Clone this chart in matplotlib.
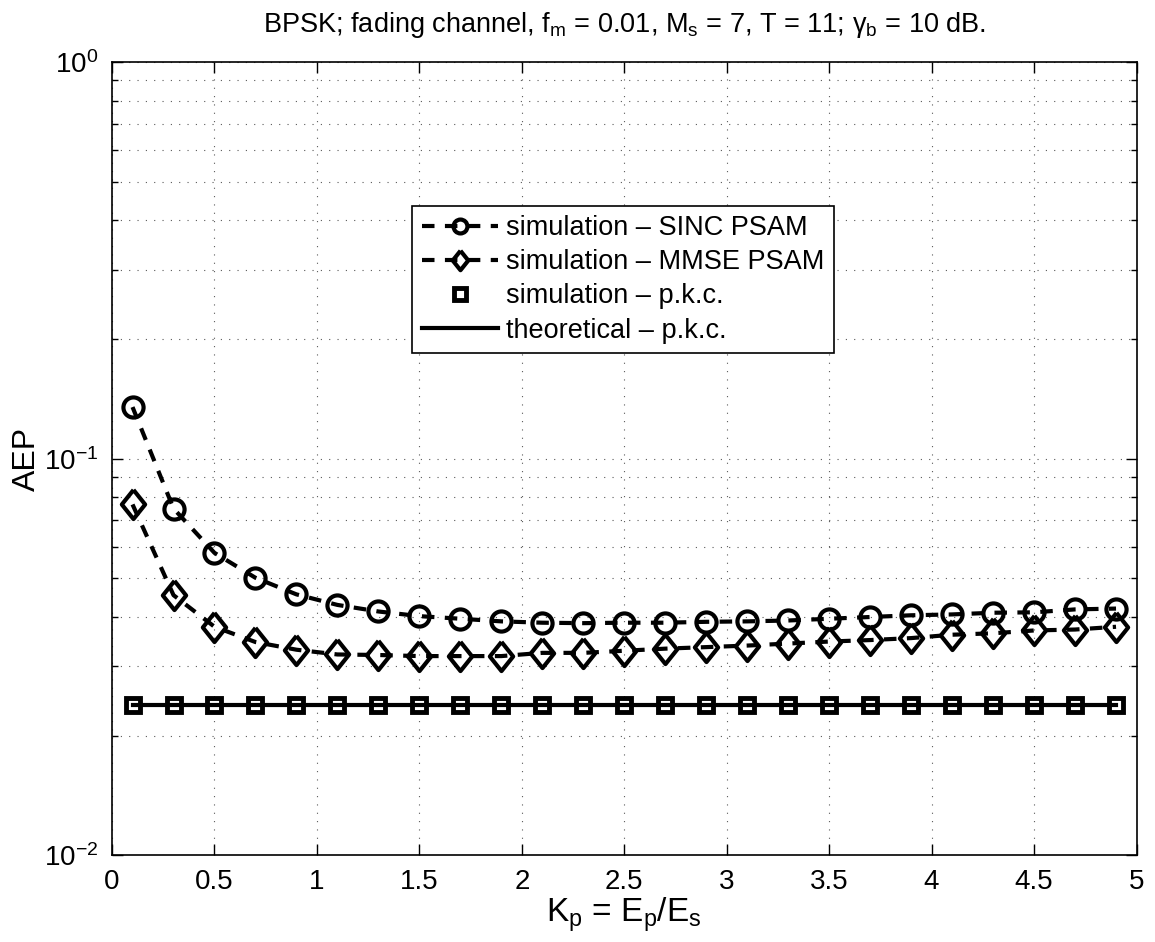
import matplotlib
matplotlib.use("Agg")
import matplotlib.pyplot as plt
from matplotlib.ticker import LogLocator, FixedLocator, FormatStrFormatter, NullFormatter

# Font setup (Helvetica-like look)
plt.rcParams["font.family"] = ["Liberation Sans", "DejaVu Sans"]
plt.rcParams["mathtext.fontset"] = "custom"
plt.rcParams["mathtext.rm"] = "Liberation Sans"
plt.rcParams["mathtext.it"] = "Liberation Sans"
plt.rcParams["mathtext.default"] = "regular"

# Data
kp = [0.1, 0.3, 0.5, 0.7, 0.9, 1.1, 1.3, 1.5, 1.7, 1.9, 2.1, 2.3, 2.5,
      2.7, 2.9, 3.1, 3.3, 3.5, 3.7, 3.9, 4.1, 4.3, 4.5, 4.7, 4.9]
sinc_psam = [0.135, 0.0749, 0.0579, 0.0501, 0.0455, 0.0428, 0.0412, 0.0401,
             0.0395, 0.0389, 0.0386, 0.0385, 0.0386, 0.0386, 0.0388, 0.0389,
             0.0391, 0.0395, 0.0399, 0.0403, 0.0405, 0.0409, 0.0410, 0.0417, 0.0419]
mmse_psam = [0.0767, 0.0453, 0.0377, 0.0345, 0.0330, 0.0321, 0.0320, 0.0318,
             0.0318, 0.0318, 0.0324, 0.0324, 0.0328, 0.0332, 0.0335, 0.0338,
             0.0342, 0.0346, 0.0349, 0.0353, 0.0360, 0.0363, 0.0369, 0.0371, 0.0377]
pkc_sim = [0.0239, 0.0239, 0.0239, 0.0239, 0.0239, 0.0239, 0.0239, 0.0239,
           0.0239, 0.0239, 0.0239, 0.0239, 0.0239, 0.0239, 0.0239, 0.0239,
           0.0239, 0.0239, 0.0239, 0.0239, 0.0239, 0.0239, 0.0239, 0.0239, 0.0239]
pkc_theory = [0.0239, 0.0239, 0.0239, 0.0239, 0.0239, 0.0239, 0.0239, 0.0239,
              0.0239, 0.0239, 0.0239, 0.0239, 0.0239, 0.0239, 0.0239, 0.0239,
              0.0239, 0.0239, 0.0239, 0.0239, 0.0239, 0.0239, 0.0239, 0.0239, 0.0239]
x_ticks = [0, 0.5, 1, 1.5, 2, 2.5, 3, 3.5, 4, 4.5, 5]

# MATLAB-style diamond is a bit taller than wide
tall_diamond = [(0, 1), (0.8, 0), (0, -1), (-0.8, 0), (0, 1)]

fig = plt.figure(figsize=(11.55, 9.42), dpi=100)
ax = fig.add_axes([0.097, 0.092, 0.887, 0.842])

dash = (0, (3, 2.5))
ax.plot(kp, sinc_psam, color="k", linestyle=dash, linewidth=3, marker="o",
        markersize=14.5, markerfacecolor="none", markeredgewidth=3,
        label="simulation \u2013 SINC PSAM")
ax.plot(kp, mmse_psam, color="k", linestyle=dash, linewidth=3, marker=tall_diamond,
        markersize=21, markerfacecolor="none", markeredgewidth=3,
        label="simulation \u2013 MMSE PSAM")
ax.plot(kp, pkc_sim, color="k", linestyle="none", marker="s",
        markersize=10, markerfacecolor="none", markeredgewidth=3.5,
        label="simulation \u2013 p.k.c.")
ax.plot(kp, pkc_theory, color="k", linestyle="-", linewidth=3,
        label="theoretical \u2013 p.k.c.")

ax.set_yscale("log")
ax.set_xlim(0, 5)
ax.set_ylim(1e-2, 1e0)
ax.xaxis.set_major_locator(FixedLocator(x_ticks))
ax.xaxis.set_major_formatter(FormatStrFormatter("%g"))
ax.yaxis.set_major_locator(LogLocator(base=10, numticks=5))
ax.yaxis.set_minor_locator(LogLocator(base=10, subs=range(2, 10), numticks=20))
ax.yaxis.set_minor_formatter(NullFormatter())

ax.tick_params(which="both", direction="in", top=True, right=True)
ax.tick_params(which="major", length=8, width=1, labelsize=20, pad=10)
ax.tick_params(which="minor", length=4, width=1)
for s in ax.spines.values():
    s.set_linewidth(1.2)

ax.grid(True, which="major", linestyle=(0, (1, 6.5)), color="0.35", linewidth=0.8)
ax.grid(True, which="minor", axis="y", linestyle=(0, (1, 6.5)), color="0.35", linewidth=0.8)

ax.set_xlabel("$K_p$ = $E_p$/$E_s$", fontsize=24, labelpad=0)
ax.set_ylabel("AEP", fontsize=23)
ax.yaxis.set_label_coords(-0.068, 0.5)
ax.set_title("BPSK; fading channel, $f_m$ = 0.01, $M_s$ = 7, T = 11; $\\gamma_b$ = 10 dB.",
             fontsize=19.5, pad=22)

leg = ax.legend(loc="upper left", bbox_to_anchor=(0.293, 0.819), fontsize=19.5,
                frameon=True, fancybox=False, framealpha=1, edgecolor="k",
                handlelength=2.8, handletextpad=0.3, borderpad=0.35,
                labelspacing=0.3, borderaxespad=0)
leg.get_frame().set_linewidth(1.2)
for h, ms in zip(leg.legend_handles, [10, 14, 8, 0]):
    h.set_markersize(ms)

fig.savefig("out.png", dpi=100)
